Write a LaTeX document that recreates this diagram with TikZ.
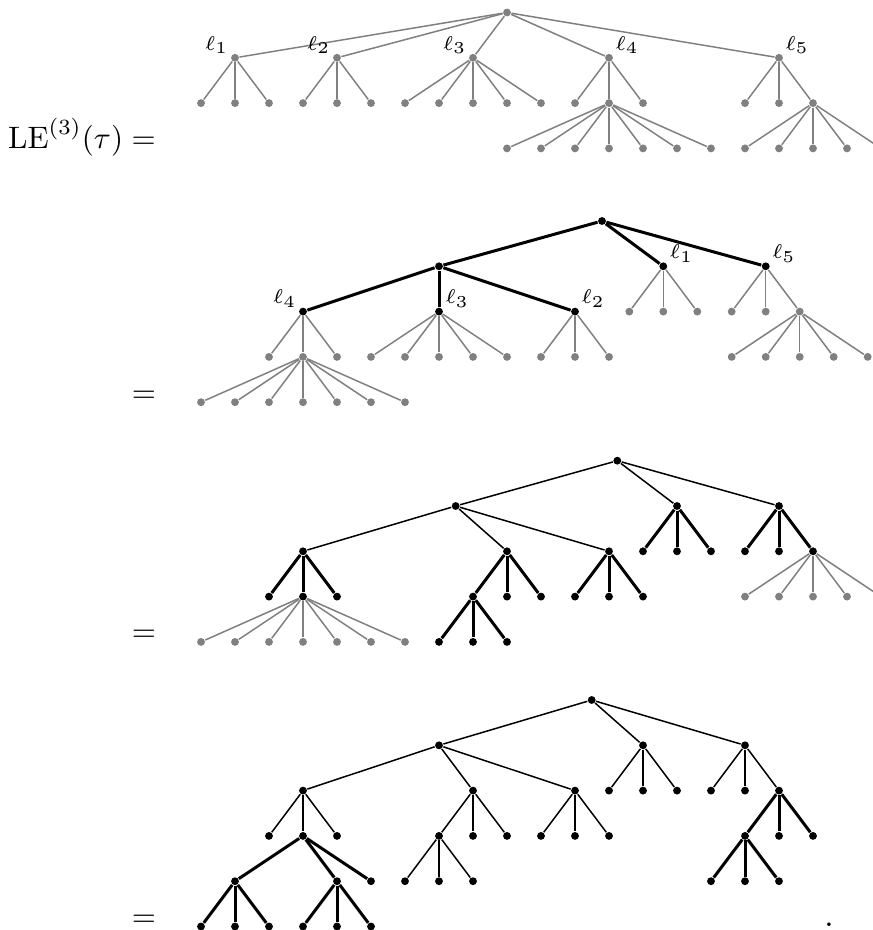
\documentclass[tikz,border=0pt]{standalone}
\tikzset{
  gdot/.style={circle, fill=gray, inner sep=0pt, minimum size=2.35pt},
  bdot/.style={circle, fill=black, inner sep=0pt, minimum size=2.35pt},
  gedge/.style={draw=gray, line width=0.45pt},
  tedge/.style={draw=black, line width=0.45pt},
  kedge/.style={draw=black, line width=0.9pt},
  lbl/.style={font=\fontsize{6}{7}\selectfont, inner xsep=0.8pt, inner ysep=0pt},
}
% parent, prefix, y, list of x, dot style, edge style
\newcommand\myfan[6]{%
  \foreach \xx [count=\ii] in {#4} {%
    \node[#5] (#2\ii) at (\xx,#3) {};
    \draw[#6] (#1) -- (#2\ii);
  }%
}
\begin{document}
\begin{tikzpicture}[x=0.3pt,y=-0.3pt]
\clip (0,0) rectangle (873,930);

% ---------- row 1 ----------
\node[anchor=base east, inner sep=0pt] (lhs) at (156.5,148.4) {\scalebox{0.93}{$\mathrm{LE}^{(3)}(\tau) =$}};
\node[gdot] (a0) at (507,12.5) {};
\myfan{a0}{a}{57.8}{235,337,473,609,779}{gdot}{gedge}
\myfan{a1}{a1}{103.1}{201,235,269}{gdot}{gedge}
\myfan{a2}{a2}{103.1}{303,337,371}{gdot}{gedge}
\myfan{a3}{a3}{103.1}{405,439,473,507,541}{gdot}{gedge}
\myfan{a4}{a4}{103.1}{575,609,643}{gdot}{gedge}
\myfan{a5}{a5}{103.1}{745,779,813}{gdot}{gedge}
\myfan{a42}{a42}{148.4}{507,541,575,609,643,677,711}{gdot}{gedge}
\myfan{a53}{a53}{148.4}{745,779,813,847,881}{gdot}{gedge}
\node[lbl, anchor=south east] (la1) at (a1.north west) {$\ell_1$};
\node[lbl, anchor=south east] (la2) at (a2.north west) {$\ell_2$};
\node[lbl, anchor=south east] (la3) at (a3.north west) {$\ell_3$};
\node[lbl, anchor=south west] (la4) at (a4.north east) {$\ell_4$};
\node[lbl, anchor=south west] (la5) at (a5.north east) {$\ell_5$};

% ---------- row 2 ----------
\node[anchor=base, inner sep=0pt] (eq2) at (144,402.2) {\scalebox{0.93}{$=$}};
\node[bdot] (b0) at (602,221) {};
\myfan{b0}{b}{266.3}{439,663.3,765.7}{bdot}{kedge}
\myfan{b1}{b1}{311.6}{303,439,575}{bdot}{kedge}
\myfan{b11}{b11}{356.9}{269,303,337}{gdot}{gedge}
\myfan{b112}{b112}{402.2}{201,235,269,303,337,371,405}{gdot}{gedge}
\myfan{b12}{b12}{356.9}{371,405,439,473,507}{gdot}{gedge}
\myfan{b13}{b13}{356.9}{541,575,609}{gdot}{gedge}
\myfan{b2}{b2}{311.6}{629.3,663.3,697.3}{gdot}{gedge}
\myfan{b3}{b3}{311.6}{731.7,765.7,799.7}{gdot}{gedge}
\myfan{b33}{b33}{356.9}{731.7,765.7,799.7,833.7,867.7}{gdot}{gedge}
\node[lbl, anchor=south east] (lb4) at (b11.north west) {$\ell_4$};
\node[lbl, anchor=south west] (lb3) at (b12.north east) {$\ell_3$};
\node[lbl, anchor=south west] (lb2) at (b13.north east) {$\ell_2$};
\node[lbl, anchor=south west] (lb1) at (b2.north east) {$\ell_1$};
\node[lbl, anchor=south west] (lb5) at (b3.north east) {$\ell_5$};

% ---------- row 3 ----------
\node[anchor=base, inner sep=0pt] (eq3) at (144,641.9) {\scalebox{0.93}{$=$}};
\node[bdot] (c0) at (617.3,460.7) {};
\myfan{c0}{c}{506}{455.7,677,779}{bdot}{tedge}
\myfan{c1}{c1}{551.3}{303,507,609}{bdot}{tedge}
\myfan{c11}{c11}{596.6}{269,303,337}{bdot}{kedge}
\myfan{c112}{c112}{641.9}{201,235,269,303,337,371,405}{gdot}{gedge}
\myfan{c12}{c12}{596.6}{473,507,541}{bdot}{kedge}
\myfan{c121}{c121}{641.9}{439,473,507}{bdot}{kedge}
\myfan{c13}{c13}{596.6}{575,609,643}{bdot}{kedge}
\myfan{c2}{c2}{551.3}{643,677,711}{bdot}{kedge}
\myfan{c3}{c3}{551.3}{745,779,813}{bdot}{kedge}
\myfan{c33}{c33}{596.6}{745,779,813,847,881}{gdot}{gedge}

% ---------- row 4 ----------
\node[anchor=base, inner sep=0pt] (eq4) at (144,926.5) {\scalebox{0.93}{$=$}};
\node[bdot] (d0) at (591.7,700) {};
\myfan{d0}{d}{745.3}{439,643,745}{bdot}{tedge}
\myfan{d1}{d1}{790.6}{303,473,575}{bdot}{tedge}
\myfan{d2}{d2}{790.6}{609,643,677}{bdot}{tedge}
\myfan{d3}{d3}{790.6}{711,745,779}{bdot}{tedge}
\myfan{d11}{d11}{835.9}{269,303,337}{bdot}{tedge}
\myfan{d12}{d12}{835.9}{439,473,507}{bdot}{tedge}
\myfan{d13}{d13}{835.9}{541,575,609}{bdot}{tedge}
\myfan{d33}{d33}{835.9}{745,779,813}{bdot}{kedge}
\myfan{d112}{d112}{881.2}{235,337,371}{bdot}{kedge}
\myfan{d121}{d121}{881.2}{405,439,473}{bdot}{tedge}
\myfan{d331}{d331}{881.2}{711,745,779}{bdot}{kedge}
\myfan{d1121}{d1121}{926.5}{201,235,269}{bdot}{kedge}
\myfan{d1122}{d1122}{926.5}{303,337,371}{bdot}{kedge}
\node[anchor=base, inner sep=0pt] (fin) at (829,926.5) {.};
\end{tikzpicture}
\end{document}
